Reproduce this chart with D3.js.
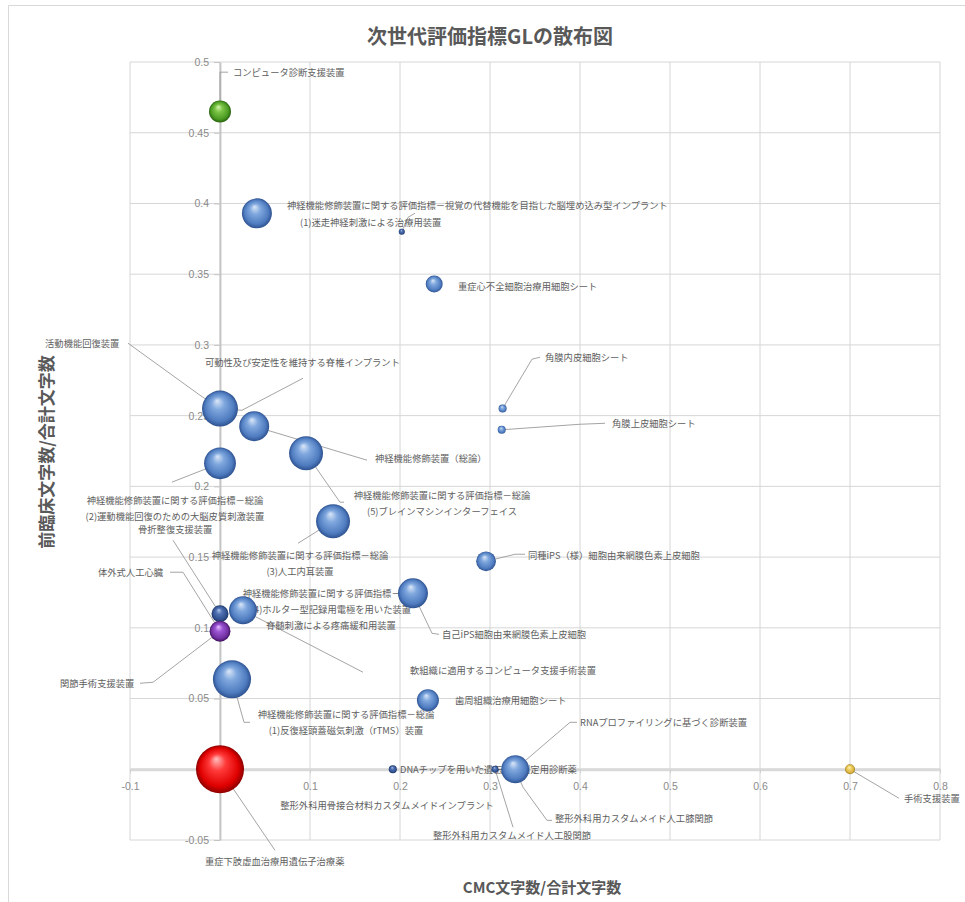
<!DOCTYPE html>
<html><head><meta charset="utf-8">
<script src="https://cdn.jsdelivr.net/npm/d3@7"></script>
<style>
body{margin:0;background:#fff}
svg{display:block}
text{font-family:"Noto Sans CJK JP","Noto Sans",sans-serif}
</style>
</head><body>
<svg id="chart" width="965" height="902"></svg>
<script>
// ---------- data ----------
const chartTitle = "次世代評価指標GLの散布図";
const xTitle = "CMC文字数/合計文字数";
const yTitle = "前臨床文字数/合計文字数";

const names = [
  "コンピュータ診断支援装置",
  "神経機能修飾装置に関する評価指標－視覚の代替機能を目指した脳埋め込み型インプラント",
  "(1)迷走神経刺激による治療用装置",
  "重症心不全細胞治療用細胞シート",
  "角膜内皮細胞シート",
  "角膜上皮細胞シート",
  "可動性及び安定性を維持する脊椎インプラント",
  "活動機能回復装置",
  "神経機能修飾装置（総論）",
  "神経機能修飾装置に関する評価指標－総論\n(5)ブレインマシンインターフェイス",
  "神経機能修飾装置に関する評価指標－総論\n(2)運動機能回復のための大脳皮質刺激装置",
  "神経機能修飾装置に関する評価指標－総論\n(3)人工内耳装置",
  "同種iPS（様）細胞由来網膜色素上皮細胞",
  "自己iPS細胞由来網膜色素上皮細胞",
  "骨折整復支援装置",
  "軟組織に適用するコンピュータ支援手術装置",
  "神経機能修飾装置に関する評価指標－総論\n(4)ホルター型記録用電極を用いた装置\n脊髄刺激による疼痛緩和用装置",
  "体外式人工心臓",
  "関節手術支援装置",
  "神経機能修飾装置に関する評価指標－総論\n(1)反復経頭蓋磁気刺激（rTMS）装置",
  "歯周組織治療用細胞シート",
  "重症下肢虚血治療用遺伝子治療薬",
  "DNAチップを用いた遺伝子型判定用診断薬",
  "整形外科用骨接合材料カスタムメイドインプラント",
  "整形外科用カスタムメイド人工膝関節",
  "整形外科用カスタムメイド人工股関節",
  "RNAプロファイリングに基づく診断装置",
  "手術支援装置"
];
// CMC文字数/合計文字数
const xValues = [0, 0.041, 0.202, 0.238, 0.314, 0.313, 0, 0, 0.038, 0.0956, 0, 0.1256, 0.2956, 0.2144,
  0, 0.0256, 0.0256, 0, 0, 0.0133, 0.231, 0, 0.192, 0.328, 0.328, 0.3056, 0.328, 0.70];
// 前臨床文字数/合計文字数
const yValues = [0.465, 0.393, 0.380, 0.343, 0.255, 0.240, 0.255, 0.255, 0.2425, 0.2234, 0.2163, 0.1753, 0.147, 0.1244,
  0.110, 0.1124, 0.1124, 0.0976, 0.0976, 0.0636, 0.0488, 0, 0, 0, 0, 0, 0, 0];
// bubble size (relative)
const bubbleSizes = [21, 39, 1.6, 12.5, 2.8, 2.8, 30, 56, 39, 50, 44, 50, 17, 39,
  12.5, 20, 34, 10, 19, 63, 21, 100, 2.8, 15, 20, 2.1, 34, 4.3];
// series each bubble belongs to
const seriesOf = ["緑","青","紺","青","青","青","青","青","青","青","青","青","青","青",
  "紺","青","青","紫","紫","青","青","赤","紺","青","青","紺","青","黄"];

const xTicks = [-0.1, 0, 0.1, 0.2, 0.3, 0.4, 0.5, 0.6, 0.7, 0.8];
const xTickLabels = ["-0.1","0","0.1","0.2","0.3","0.4","0.5","0.6","0.7","0.8"];
const yTicks = [-0.05, 0, 0.05, 0.1, 0.15, 0.2, 0.25, 0.3, 0.35, 0.4, 0.45, 0.5];
const yTickLabels = ["-0.05","0","0.05","0.1","0.15","0.2","0.25","0.3","0.35","0.4","0.45","0.5"];

// ---------- label layout (data units; leader bend points follow the bubble centre) ----------
const labelLayout = [
  {lx:0.0144, ly:0.4928, a:"start", leader:[[0,0.4928],[0.009,0.4928]]},
  {lx:0.0744, ly:0.3987, a:"start"},
  {lx:0.0889, ly:0.3867, a:"start", leader:[[0.2089,0.3902],[0.2167,0.3931]]},
  {lx:0.2644, ly:0.3415, a:"start"},
  {lx:0.3611, ly:0.2913, a:"start", leader:[[0.3467,0.2899],[0.3556,0.2913]]},
  {lx:0.4356, ly:0.2446, a:"start", leader:[[0.4,0.2439],[0.4278,0.2446]]},
  {lx:-0.0167, ly:0.2877, a:"start", leader:[[0.0244,0.2538],[0.0922,0.2764]]},
  {lx:-0.1944, ly:0.3012, a:"start", leader:[[-0.0222,0.2644],[-0.1022,0.3012]]},
  {lx:0.1722, ly:0.2199, a:"start", leader:[[0.1633,0.2185]]},
  {lx:0.2467, ly:0.1937, a:"middle", leader:[[0.1333,0.1888],[0.1378,0.1888]]},
  {lx:-0.05, ly:0.1902, a:"middle", leader:[[-0.0533,0.2030]]},
  {lx:0.0889, ly:0.1513, a:"middle", leader:[[0.0867,0.1598]]},
  {lx:0.3422, ly:0.1513, a:"start", leader:[[0.3278,0.152],[0.3389,0.152]]},
  {lx:0.2467, ly:0.0954, a:"start", leader:[[0.2356,0.0961],[0.2433,0.0954]]},
  {lx:-0.0911, ly:0.1697, a:"start", leader:[[-0.0522,0.1619]]},
  {lx:0.2111, ly:0.07, a:"start", leader:[[0.1589,0.0686]]},
  {lx:0.1233, ly:0.1244, a:"middle"},
  {lx:-0.1356, ly:0.1393, a:"start", leader:[[-0.0411,0.1393],[-0.0556,0.1393]]},
  {lx:-0.1778, ly:0.0608, a:"start", leader:[[-0.0744,0.0615],[-0.0889,0.0608]]},
  {lx:0.14, ly:0.0389, a:"middle", leader:[[0.0267,0.0332],[0.0333,0.0332]]},
  {lx:0.2611, ly:0.0488, a:"start"},
  {lx:-0.0167, ly:-0.065, a:"start", leader:[[0.0611,-0.0573]]},
  {lx:0.2, ly:0, a:"start"},
  {lx:0.1856, ly:-0.0255, a:"middle"},
  {lx:0.3722, ly:-0.0346, a:"start", leader:[[0.3367,-0.0127],[0.3633,-0.0361],[0.3689,-0.0361]]},
  {lx:0.2367, ly:-0.0467, a:"start", leader:[[0.3256,-0.041]]},
  {lx:0.4, ly:0.0332, a:"start", leader:[[0.3889,0.0332],[0.3967,0.0332]]},
  {lx:0.7600, ly:-0.0205, a:"start", leader:[[0.7544,-0.0205]]}
];

// ---------- styles ----------
const seriesColors = {
  "青": ["#dbe7f8","#80a8de","#4f7cc0","#2e5290"],
  "緑": ["#d4f5b0","#7cc446","#4a9a22","#28620e"],
  "赤": ["#ffc0c0","#ff3a3a","#e00000","#8c0000"],
  "紫": ["#e6c0ff","#9c55d4","#7030a0","#3e0f5c"],
  "紺": ["#b0c4e8","#5273b4","#30508e","#1c3462"],
  "黄": ["#fff3c0","#f2d56a","#d8b040","#9c7a1c"]
};

// ---------- drawing ----------
const svg = d3.select("#chart");
const x = d3.scaleLinear().domain([-0.1, 0.8]).range([130, 940]);
const y = d3.scaleLinear().domain([-0.05, 0.5]).range([840, 62]);
const r = d3.scaleSqrt().domain([0, 100]).range([0, 24]);

// chart border
svg.append("path").attr("d","M8.5,902 V5.5 H965").attr("fill","none").attr("stroke","#d9d9d9");

// gradients
const defs = svg.append("defs");
Object.entries(seriesColors).forEach(([k,c],i)=>{
  const g = defs.append("radialGradient").attr("id","g"+i)
    .attr("cx","50%").attr("cy","50%").attr("r","50%").attr("fx","42%").attr("fy","28%");
  [[0,c[0]],[0.35,c[1]],[0.8,c[2]],[1,c[3]]].forEach(([o,col])=>
    g.append("stop").attr("offset",o).attr("stop-color",col));
});
const gradId = k => "url(#g" + Object.keys(seriesColors).indexOf(k) + ")";

// gridlines
const grid = svg.append("g");
grid.selectAll("line.v").data(xTicks).join("line")
  .attr("x1",d=>x(d)).attr("x2",d=>x(d)).attr("y1",y(0.5)).attr("y2",y(-0.05))
  .attr("stroke","#d6d6d6").attr("stroke-width",1);
grid.selectAll("line.h").data(yTicks).join("line")
  .attr("y1",d=>y(d)).attr("y2",d=>y(d)).attr("x1",x(-0.1)).attr("x2",x(0.8))
  .attr("stroke","#d6d6d6").attr("stroke-width",1);

// axes crossing at zero
const xAxis = svg.append("g").attr("transform",`translate(0,${y(0)})`)
  .call(d3.axisBottom(x).tickValues(xTicks).tickFormat((d,i)=>xTickLabels[i]).tickSize(4).tickPadding(9).tickSizeOuter(0));
xAxis.select(".domain").attr("stroke","#d9d9d9").attr("stroke-width",3);
xAxis.selectAll(".tick line").attr("stroke","#d0d0d0");
xAxis.selectAll("text").attr("fill","#8a8a8a").style("font-size","10.5px").style("font-family","'Liberation Sans',sans-serif");

const yAxis = svg.append("g").attr("transform",`translate(${x(0)},0)`)
  .call(d3.axisLeft(y).tickValues(yTicks).tickFormat((d,i)=>yTickLabels[i]).tickSize(6).tickPadding(5).tickSizeOuter(0));
yAxis.select(".domain").attr("stroke","#c4c4c4").attr("stroke-width",1.8);
yAxis.selectAll(".tick line").attr("stroke","#c4c4c4");
yAxis.selectAll("text").attr("fill","#8a8a8a").style("font-size","10.5px").style("font-family","'Liberation Sans',sans-serif");

// leader lines
const line = d3.line().x(d=>x(d[0])).y(d=>y(d[1]));
svg.append("g").selectAll("path").data(labelLayout.map((L,i)=>({L,i})).filter(o=>o.L.leader)).join("path")
  .attr("d",o=>line([[xValues[o.i],yValues[o.i]], ...o.L.leader]))
  .attr("fill","none").attr("stroke","#9a9a9a").attr("stroke-width",0.9);

// data labels
const lab = svg.append("g");
labelLayout.forEach((L,i)=>{
  const lines = names[i].split("\n");
  const t = lab.append("text").attr("x",x(L.lx)).attr("y",y(L.ly))
    .attr("text-anchor",L.a).attr("dominant-baseline","central")
    .attr("fill","#5e5e5e").style("font-size","9.3px");
  lines.forEach((s,j)=>t.append("tspan").attr("x",x(L.lx)).attr("dy",j?16:0).text(s));
});

// bubbles
svg.append("g").selectAll("circle").data(names.map((n,i)=>i)).join("circle")
  .attr("cx",i=>x(xValues[i])).attr("cy",i=>y(yValues[i]))
  .attr("r",i=>r(bubbleSizes[i]))
  .attr("fill",i=>gradId(seriesOf[i]));

// titles
svg.append("text").attr("x",490).attr("y",44).attr("text-anchor","middle")
  .attr("fill","#595959").style("font-size","20px").style("font-weight","bold").text(chartTitle);
svg.append("text").attr("x",542).attr("y",893).attr("text-anchor","middle")
  .attr("fill","#595959").style("font-size","15px").style("font-weight","bold").text(xTitle);
svg.append("text").attr("transform","translate(53,452) rotate(-90)").attr("text-anchor","middle")
  .attr("fill","#595959").style("font-size","17px").style("font-weight","bold").text(yTitle);
</script>
</body></html>
